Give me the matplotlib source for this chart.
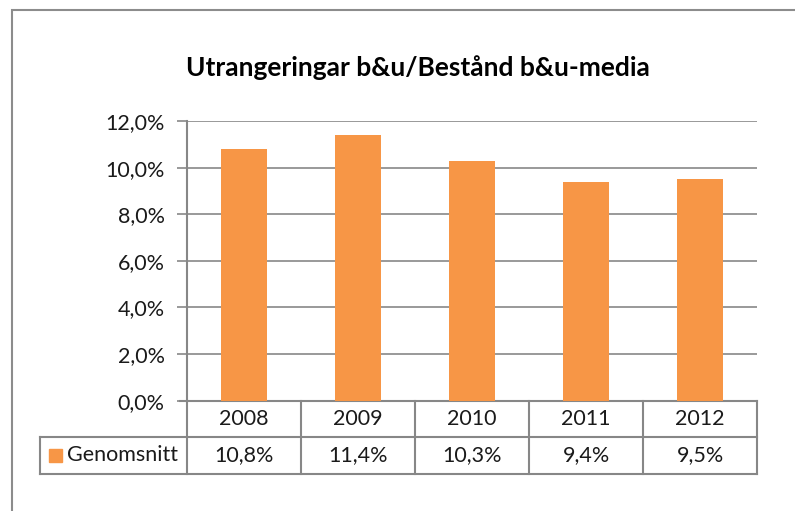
import numpy as np
import matplotlib
matplotlib.use('Agg')
import matplotlib.pyplot as plt
from matplotlib.ticker import FuncFormatter
from matplotlib.patches import Rectangle
import matplotlib.transforms as mtransforms

years = ['2008', '2009', '2010', '2011', '2012']
genomsnitt = [10.8, 11.4, 10.3, 9.4, 9.5]
series_name = 'Genomsnitt'
title = 'Utrangeringar b&u/Bestånd b&u-media'

plt.rcParams['font.family'] = ['Lato', 'DejaVu Sans']

W, H = 795, 511
fig = plt.figure(figsize=(W / 100, H / 100), dpi=100)
fig.patch.set_facecolor('white')

# outer chart border (Excel frame)
fig.add_artist(Rectangle((11.5 / W, -0.1), 1.2, (H - 9.5) / H + 0.1,
                         transform=fig.transFigure, fill=False,
                         edgecolor='#8c8c8c', linewidth=1.5))

x0, x1, ytop, ybot = 187, 757, 121, 400.7
ax = fig.add_axes([x0 / W, (H - ybot) / H, (x1 - x0) / W, (ybot - ytop) / H])

bar_color = '#f79646'
grid_color = '#878787'
x = np.arange(len(years))
ax.bar(x, genomsnitt, width=0.4, color=bar_color, zorder=3)
ax.set_xlim(-0.5, len(years) - 0.5)
ax.set_ylim(0, 12)
ax.set_yticks(np.arange(0, 12.1, 2))
ax.yaxis.set_major_formatter(FuncFormatter(lambda v, p: f'{v:.1f}'.replace('.', ',') + '%'))
ax.grid(axis='y', color=grid_color, linewidth=1.2, zorder=0)
ax.set_xticks([])
for s in ['top', 'right', 'bottom']:
    ax.spines[s].set_visible(False)
ax.spines['left'].set_color(grid_color)
ax.spines['left'].set_linewidth(1.5)
ax.tick_params(axis='y', length=7, width=1.2, color=grid_color,
               labelsize=15.5, pad=9, labelcolor='#1a1a1a')

fig.text(418 / W, 1 - 68 / H, title, ha='center', va='center',
         fontsize=19, fontweight='bold', color='#000000')

# data table under the plot
row_h = 36.5 / (ybot - ytop)
trans = mtransforms.blended_transform_factory(ax.transData, ax.transAxes)
legend_left = (40 - x0) / ((x1 - x0) / len(years)) - 0.5
lw = 1.5
kw = dict(transform=trans, color=grid_color, linewidth=lw, clip_on=False)
# horizontal lines
ax.plot([-0.56, 4.5], [0, 0], **kw)
ax.plot([legend_left, 4.5], [-row_h, -row_h], **kw)
ax.plot([legend_left, 4.5], [-2 * row_h, -2 * row_h], **kw)
# vertical lines
for b in np.arange(-0.5, len(years), 1.0):
    ax.plot([b, b], [0, -2 * row_h], **kw)
ax.plot([legend_left, legend_left], [-row_h, -2 * row_h], **kw)

for i, (yr, v) in enumerate(zip(years, genomsnitt)):
    ax.text(i, -0.5 * row_h, yr, transform=trans, ha='center', va='center',
            fontsize=15.5, color='#1a1a1a')
    ax.text(i, -1.5 * row_h, f'{v:.1f}'.replace('.', ',') + '%', transform=trans,
            ha='center', va='center', fontsize=15.5, color='#1a1a1a')

# legend key in table
col_w = (x1 - x0) / len(years)
key_x = (49 - x0) / col_w - 0.5
key_w = 13 / col_w
key_h = 13 / (ybot - ytop)
ax.add_patch(Rectangle((key_x, -1.5 * row_h - key_h / 2), key_w, key_h,
                       transform=trans, color=bar_color, clip_on=False))
ax.text((67 - x0) / col_w - 0.5, -1.5 * row_h, series_name, transform=trans,
        ha='left', va='center', fontsize=15.5, color='#1a1a1a')

fig.savefig('out.png', dpi=100)
